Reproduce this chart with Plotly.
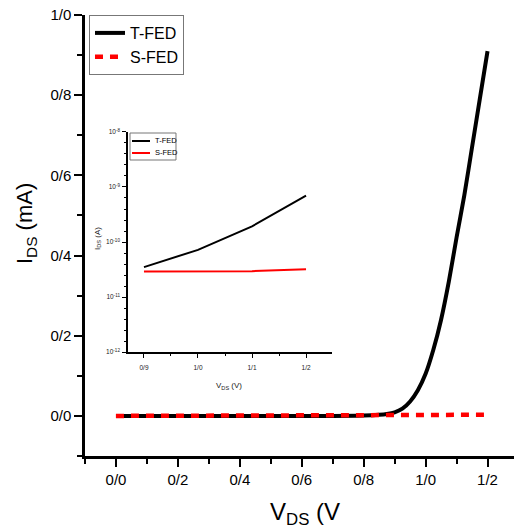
import plotly.graph_objects as go

# ---- main panel data: drain current (mA) vs drain voltage (V)
v_main = [0.0, 0.1, 0.2, 0.3, 0.4, 0.5, 0.6, 0.7, 0.8, 0.85, 0.875, 0.9, 0.925,
          0.95, 0.975, 1.0, 1.025, 1.05, 1.075, 1.1, 1.125, 1.15, 1.175, 1.2]
i_tfed = [0.0, 0.0, 0.0, 0.0, 0.0, 0.0, 0.0, 0.0, 0.001, 0.003, 0.005, 0.009, 0.018,
          0.036, 0.064, 0.105, 0.165, 0.24, 0.335, 0.445, 0.55, 0.67, 0.79, 0.91]
i_sfed = [0.0, 0.0, 0.0, 0.0, 0.0, 0.0, 0.0, 0.0, 0.0, 0.0005, 0.0007, 0.001, 0.001,
          0.001, 0.001, 0.0012, 0.0015, 0.0017, 0.002, 0.0022, 0.0025, 0.0027, 0.0028, 0.003]

x_ticks = [0.0, 0.2, 0.4, 0.6, 0.8, 1.0, 1.2]
x_ticklabels = ["0/0", "0/2", "0/4", "0/6", "0/8", "1/0", "1/2"]
y_ticks = [0.0, 0.2, 0.4, 0.6, 0.8, 1.0]
y_ticklabels = ["0/0", "0/2", "0/4", "0/6", "0/8", "1/0"]

# ---- inset data: drain current (A), log scale
v_inset = [0.9, 1.0, 1.1, 1.2]
i_tfed_log = [3.5e-11, 7.2e-11, 1.93e-10, 6.95e-10]
i_sfed_log = [2.9e-11, 2.9e-11, 2.95e-11, 3.2e-11]

inset_x_ticks = [0.9, 1.0, 1.1, 1.2]
inset_x_ticklabels = ["0/9", "1/0", "1/1", "1/2"]
inset_y_ticks = [1e-12, 1e-11, 1e-10, 1e-9, 1e-8]
inset_y_ticklabels = ["10<sup>-12</sup>", "10<sup>-11</sup>", "10<sup>-10</sup>",
                      "10<sup>-9</sup>", "10<sup>-8</sup>"]
inset_y_minor = [10 ** (e + f) for e in range(-12, -8) for f in (0.2, 0.4, 0.6, 0.8)]

FONT = "Liberation Sans, Arial, sans-serif"

fig = go.Figure()

fig.add_trace(go.Scatter(
    x=v_main, y=i_tfed, mode="lines", name="T-FED",
    line=dict(color="black", width=4, shape="spline", smoothing=0.6),
    legend="legend"))
fig.add_trace(go.Scatter(
    x=v_main, y=i_sfed, mode="lines", name="S-FED",
    line=dict(color="#ff0000", width=4.5, dash="8px,7px"),
    legend="legend"))

fig.add_trace(go.Scatter(
    x=v_inset, y=i_tfed_log, mode="lines", name="T-FED", showlegend=False,
    line=dict(color="black", width=2), xaxis="x2", yaxis="y2"))
fig.add_trace(go.Scatter(
    x=v_inset, y=i_sfed_log, mode="lines", name="S-FED", showlegend=False,
    line=dict(color="#ff0000", width=2), xaxis="x2", yaxis="y2"))

axis_common = dict(showline=True, linecolor="black", linewidth=2.5, showgrid=False,
                   zeroline=False, ticks="outside", ticklen=8, tickwidth=2,
                   tickcolor="black", tickfont=dict(family=FONT, size=15, color="black"))

inset_common = dict(showline=True, linecolor="black", linewidth=1.5, showgrid=False,
                    zeroline=False, ticks="outside", ticklen=4, tickwidth=1,
                    tickcolor="black", tickfont=dict(family=FONT, size=6.5, color="#222"))

fig.update_layout(
    width=514, height=529,
    margin=dict(l=85, r=0, t=15, b=73),
    paper_bgcolor="white", plot_bgcolor="white",
    font=dict(family=FONT, color="black"),
    xaxis=dict(range=[-0.1, 1.2855], tickmode="array", tickvals=x_ticks,
               ticktext=x_ticklabels,
               minor=dict(ticks="outside", ticklen=5, tickwidth=2, tickcolor="black",
                          tick0=0.1, dtick=0.2),
               **axis_common),
    yaxis=dict(range=[-0.1, 1.0], tickmode="array", tickvals=y_ticks,
               ticktext=y_ticklabels,
               minor=dict(ticks="outside", ticklen=5, tickwidth=2, tickcolor="black",
                          tick0=0.1, dtick=0.2),
               **axis_common),
    xaxis2=dict(domain=[0.1002, 0.5758], anchor="y2", range=[0.8704, 1.2481],
                tickmode="array", tickvals=inset_x_ticks, ticktext=inset_x_ticklabels,
                ticklabelstandoff=4,
                minor=dict(ticks="outside", ticklen=2.5, tickwidth=1, tickcolor="black",
                           tick0=0.95, dtick=0.1),
                **inset_common),
    yaxis2=dict(domain=[0.2358, 0.7347], anchor="x2", type="log", range=[-12, -8],
                tickmode="array", tickvals=inset_y_ticks, ticktext=inset_y_ticklabels,
                ticklabelstandoff=1,
                minor=dict(ticks="outside", ticklen=2.5, tickwidth=1, tickcolor="black",
                           tickmode="array", tickvals=inset_y_minor),
                **inset_common),
    legend=dict(x=0.0093, y=1.0, xanchor="left", yanchor="top",
                bgcolor="white", bordercolor="#777", borderwidth=1,
                font=dict(family=FONT, size=16, color="black"),
                tracegroupgap=0, itemwidth=30),
    showlegend=True,
)

# inset legend box and keys (drawn in paper space)
fig.add_shape(type="rect", xref="paper", yref="paper",
              x0=0.1049, x1=0.2121, y0=0.6712, y1=0.7324,
              line=dict(color="#777", width=1), fillcolor="white")
fig.add_shape(type="line", xref="paper", yref="paper",
              x0=0.1096, x1=0.1515, y0=0.7143, y1=0.7143,
              line=dict(color="black", width=2))
fig.add_shape(type="line", xref="paper", yref="paper",
              x0=0.1096, x1=0.1515, y0=0.6871, y1=0.6871,
              line=dict(color="#ff0000", width=2))

annotations = [
    dict(text="T-FED", x=0.1585, y=0.7143, xanchor="left", yanchor="middle",
         font=dict(family=FONT, size=7.5, color="black")),
    dict(text="S-FED", x=0.1585, y=0.6871, xanchor="left", yanchor="middle",
         font=dict(family=FONT, size=7.5, color="black")),
    dict(text="I<sub>DS</sub> (A)", x=0.03, y=0.494, textangle=-90,
         xanchor="center", yanchor="middle",
         font=dict(family=FONT, size=8, color="#222")),
    dict(text="V<sub>DS</sub> (V)", x=0.3357, y=0.158,
         xanchor="center", yanchor="middle",
         font=dict(family=FONT, size=8, color="#222")),
    dict(text="I<sub>DS</sub> (mA)", x=-0.1375, y=0.526, textangle=-90,
         xanchor="center", yanchor="middle",
         font=dict(family=FONT, size=22, color="black")),
    dict(text="V<sub>DS</sub> (V", x=0.513, y=-0.13,
         xanchor="center", yanchor="middle",
         font=dict(family=FONT, size=24, color="black")),
]
for a in annotations:
    a.update(xref="paper", yref="paper", showarrow=False)
fig.update_layout(annotations=annotations)

fig.write_html("out.html")
